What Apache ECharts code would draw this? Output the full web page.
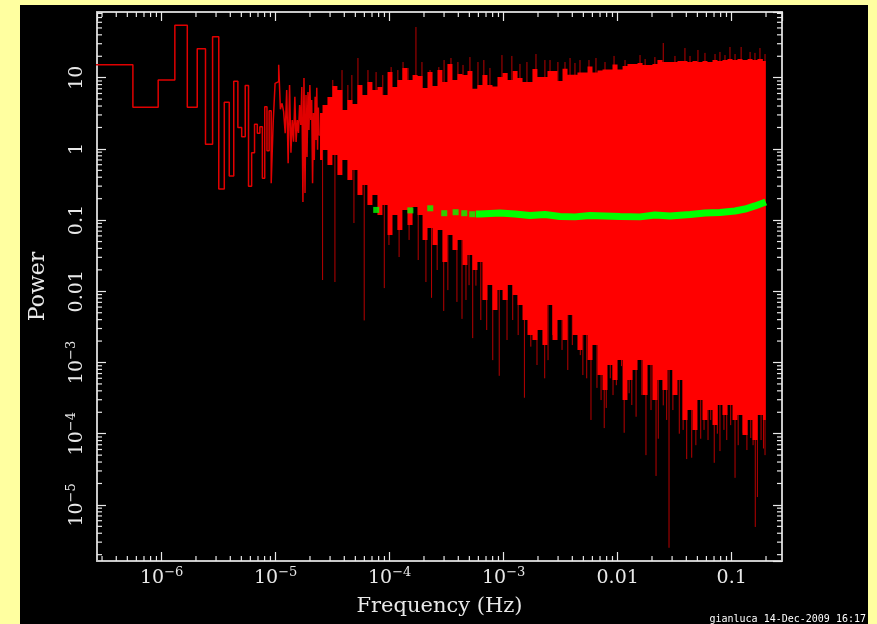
<!DOCTYPE html>
<html>
<head>
<meta charset="utf-8">
<script src="https://cdn.jsdelivr.net/npm/echarts@6/dist/echarts.min.js"></script>
<style>
  html, body { margin: 0; padding: 0; width: 877px; height: 624px; overflow: hidden; background: #ffffa0; }
  #chart { position: absolute; left: 20px; top: 5px; width: 848px; height: 619px; background: #000; }
</style>
</head>
<body>
<div id="chart"></div>
<script>
// power spectrum

// first bins: one step per frequency bin
const binWidth = 3.73e-7
const lowPower = [
  15.2, 3.84, 9.29, 54.4, 3.84, 25.5, 1.16, 37.7, 0.273, 4.51,
  0.416, 8.9, 1.99, 1.48, 7.8, 0.30, 0.885, 2.22, 1.66, 2.05,
  0.386, 3.92, 0.94, 3.44, 0.33, 2.33, 8.34, 8.79, 15.2, 3.6,
  4.37, 3.33, 1.66, 6.72, 0.63, 7.9, 0.885, 2.55, 1.26, 5.4,
  1.25, 2.55, 1.68, 4.14, 2.17, 7.4, 0.18, 9.9, 0.24, 5.71,
  0.77, 6.3, 1.84, 7.9, 2.55, 4.86, 0.33, 3.2, 0.70, 5.4,
  1.33, 7.2, 0.97, 3.8, 1.57
]

// dense part: upper / lower edge of the filled red band
const bandFreq = [
  2.45e-5, 2.71e-5, 2.99e-5, 3.31e-5, 3.66e-5, 4.05e-5, 4.48e-5, 4.96e-5, 5.49e-5, 6.07e-5,
  6.71e-5, 7.43e-5, 8.22e-5, 9.09e-5, 1.01e-4, 1.11e-4, 1.23e-4, 1.36e-4, 1.51e-4, 1.67e-4,
  1.85e-4, 2.04e-4, 2.26e-4, 2.50e-4, 2.76e-4, 3.05e-4, 3.38e-4, 3.74e-4, 4.14e-4, 4.58e-4,
  5.06e-4, 5.60e-4, 6.19e-4, 6.85e-4, 7.58e-4, 8.39e-4, 9.28e-4, 1.03e-3, 1.14e-3, 1.26e-3,
  1.39e-3, 1.54e-3, 1.70e-3, 1.88e-3, 2.08e-3, 2.30e-3, 2.55e-3, 2.82e-3, 3.12e-3, 3.45e-3,
  3.82e-3, 4.22e-3, 4.67e-3, 5.17e-3, 5.72e-3, 6.32e-3, 7.00e-3, 7.74e-3, 8.56e-3, 9.47e-3,
  0.0105, 0.0116, 0.0128, 0.0142, 0.0157, 0.0174, 0.0192, 0.0212, 0.0235, 0.0260,
  0.0288, 0.0318, 0.0352, 0.0389, 0.0431, 0.0476, 0.0527, 0.0583, 0.0645, 0.0714,
  0.0789, 0.0873, 0.0966, 0.107, 0.118, 0.131, 0.145, 0.160, 0.177, 0.199
]
const bandHigh = [
  3.2, 4.14, 5.35, 7.65, 6.72, 3.52, 4.86, 4.28, 7.9, 5.71,
  8.71, 6.72, 7.4, 5.71, 12.0, 7.4, 9.29, 13.7, 9.29, 10.9,
  10.55, 7.17, 12.0, 7.65, 12.8, 8.71, 15.6, 9.29, 11.26, 10.9,
  12.4, 7.0, 7.9, 10.9, 7.9, 7.5, 10.2, 11.6, 9.3, 12.4,
  9.9, 8.7, 8.7, 13.3, 10.2, 10.2, 12.4, 12.4, 9.0, 13.4,
  11.0, 11.0, 11.8, 11.8, 14.4, 11.8, 12.6, 13.0, 13.0, 15.3,
  13.0, 14.6, 15.6, 15.6, 16.1, 15.1, 15.1, 15.6, 17.7, 16.6,
  16.6, 16.6, 17.1, 17.1, 16.6, 17.1, 16.6, 17.1, 16.6, 17.7,
  17.1, 17.7, 18.3, 17.7, 18.3, 17.7, 18.3, 17.7, 18.3, 17.1
]
const bandLow = [
  0.698, 0.966, 0.594, 0.821, 0.430, 0.698, 0.366, 0.505, 0.225, 0.311,
  0.163, 0.225, 0.118, 0.163, 0.0618, 0.118, 0.0726, 0.139, 0.0853, 0.153,
  0.118, 0.0526, 0.0774, 0.0447, 0.0726, 0.0258, 0.0618, 0.0380, 0.0526, 0.0234,
  0.0324, 0.0199, 0.0258, 0.00755, 0.0123, 0.00546, 0.0104, 0.00755, 0.0123, 0.00887,
  0.00642, 0.00395, 0.00243, 0.00207, 0.00286, 0.00176, 0.00642, 0.00207, 0.00395, 0.00207,
  0.00465, 0.00243, 0.00150, 0.00243, 0.00108, 0.00176, 0.000667, 0.000411, 0.000922, 0.000568,
  0.00108, 0.000297, 0.000568, 0.000785, 0.00108, 0.000349, 0.000922, 0.000297, 0.000568, 0.000411,
  0.000785, 0.000349, 0.000568, 0.000156, 0.000215, 0.000113, 0.000297, 0.000156, 0.000215, 0.000132,
  0.000253, 0.000183, 0.000253, 0.000156, 0.000183, 9.6e-5, 0.000156, 8.15e-5, 0.000183, 0.000156
]

// single bins that stick out of the band (drawn from spikeAnchor to the tip)
const spikeAnchor = 1
const spikeFreq = [
  2.58e-5, 3.31e-5, 4.86e-5, 5.98e-5, 8.97e-5, 9.86e-5, 1.21e-4, 1.48e-4, 2.08e-4, 2.33e-4,
  2.98e-4, 3.89e-4, 4.31e-4, 4.97e-4, 5.35e-4, 5.71e-4, 8.02e-4, 9.14e-4, 1.52e-3, 1.73e-3,
  2.29e-3, 2.69e-3, 4.70e-3, 5.35e-3, 5.83e-3, 6.58e-3, 7.62e-3, 7.94e-3, 8.61e-3, 9.73e-3,
  0.0108, 0.0114, 0.0126, 0.0145, 0.0177, 0.0217, 0.0227, 0.0251, 0.0282, 0.0347,
  0.0403, 0.0446, 0.0535, 0.0655, 0.0703, 0.0748, 0.0789, 0.0855, 0.107, 0.126,
  0.147, 0.161, 0.168, 0.190,
  1.78e-4, 2.61e-4, 3.24e-4, 4.67e-4, 6.3e-4, 7.1e-4, 1.07e-3, 1.2e-3, 1.34e-3, 1.96e-3,
  2.45e-3, 3.25e-3, 3.65e-3, 4.0e-3, 4.95e-3, 7.15e-3, 9.1e-3, 0.0133, 0.0163, 0.0196,
  0.0269, 0.0305, 0.0375, 0.0485, 0.0572, 0.062, 0.0905, 0.098, 0.114, 0.136,
  0.154, 0.181, 0.196,
  3.82e-5, 5.27e-5, 1.03e-4, 1.31e-4, 1.70e-4, 2.26e-4, 2.70e-4, 3.45e-4, 5.06e-4, 7.58e-4,
  9.66e-4, 1.18e-3, 1.39e-3, 1.92e-3, 2.55e-3, 3.45e-3, 4.22e-3, 5.60e-3, 7.74e-3, 9.29e-3,
  0.0116, 0.0157, 0.0174, 0.0212, 0.0251, 0.0318, 0.0389, 0.0431, 0.0506, 0.0583,
  0.0714, 0.0789, 0.0873, 0.0966, 0.107, 0.121, 0.145, 0.160, 0.177, 0.196,
  3.17e-5, 4.3e-5, 4.66e-5, 6.45e-5, 7.6e-5, 8.7e-5, 1.18e-4, 1.45e-4, 1.92e-4, 3.0e-4,
  3.97e-4, 4.4e-4, 5.95e-4, 6.7e-4, 1.6e-3, 2.3e-3, 2.99e-3, 3.82e-3, 4.67e-3, 6.45e-3
]
const spikeTip = [
  0.0144, 0.0135, 0.091, 0.0039, 0.0111, 0.0447, 0.0303, 0.0526, 0.0135, 0.0081,
  0.0053, 0.0071, 0.0041, 0.0122, 0.0022, 0.012, 0.00108, 0.00065, 0.00032, 0.00167,
  0.0006, 0.00243, 0.00127, 0.0006, 0.000156, 0.00044, 0.00012, 0.00023, 0.0006, 0.00048,
  0.00089, 0.000103, 0.00037, 0.000173, 5.0e-5, 2.55e-5, 8.5e-5, 0.00025, 2.5e-6, 1.0e-4,
  4.4e-5, 4.6e-5, 8.5e-5, 0.000156, 3.9e-5, 1.0e-4, 5.7e-5, 0.000113, 2.4e-5, 1.03e-4,
  8.7e-5, 4.9e-6, 1.29e-5, 6.2e-5,
  0.0275, 0.0199, 0.0104, 0.00755, 0.00395, 0.00286, 0.00207, 0.00395, 0.00243, 0.000922,
  0.00108, 0.00150, 0.000785, 0.00176, 0.000667, 0.000297, 0.000349, 0.000253, 0.000349, 0.000215,
  0.000156, 0.000215, 0.000113, 6.9e-5, 0.000113, 8.15e-5, 8.15e-5, 0.000132, 6.9e-5, 5.9e-5,
  6.9e-5, 8.15e-5, 5.0e-5,
  12.8, 18.9, 14.1, 16.6, 51.5, 12.8, 14.1, 18.9, 19.5, 13.7,
  20.8, 20.2, 15.6, 21.5, 17.7, 16.6, 16.1, 17.7, 16.6, 20.2,
  17.7, 20.8, 18.3, 19.5, 30.7, 20.2, 26.1, 20.2, 24.5, 22.3,
  21.5, 23.0, 20.8, 27.0, 21.5, 27.0, 23.0, 22.3, 26.1, 21.5,
  9.29, 7.9, 10.9, 12.8, 12.0, 10.9, 12.8, 13.7, 16.6, 17.7,
  16.6, 15.1, 16.6, 17.7, 16.6, 17.7, 16.6, 18.9, 17.7, 18.9
]

// green: averaged spectrum
const greenDotFreq = [7.62e-5, 1.52e-4, 2.27e-4, 3.01e-4, 3.79e-4, 4.51e-4, 5.30e-4]
const greenDotPower = [0.139, 0.137, 0.1465, 0.125, 0.129, 0.125, 0.121]
const greenFreq = [
  5.7e-4, 6.2e-4, 9.3e-4, 1.26e-3, 1.7e-3, 2.3e-3, 3.12e-3, 4.22e-3, 5.72e-3, 7.74e-3,
  0.0105, 0.0157, 0.0212, 0.0288, 0.0431, 0.0583, 0.0789, 0.107, 0.131, 0.16, 0.199
]
const greenPower = [
  0.122, 0.122, 0.126, 0.122, 0.116, 0.120, 0.1125, 0.111, 0.116, 0.114,
  0.112, 0.111, 0.118, 0.114, 0.120, 0.126, 0.128, 0.134, 0.143, 0.158, 0.18
]

// axes
const xTickValues = [1e-6, 1e-5, 1e-4, 1e-3, 0.01, 0.1]
const xTickLabels = ['{b|10}{s|−6}', '{b|10}{s|−5}', '{b|10}{s|−4}', '{b|10}{s|−3}', '{b|0.01}', '{b|0.1}']
const yTickValues = [1e-5, 1e-4, 1e-3, 0.01, 0.1, 1, 10]
const yTickLabels = ['{b|10}{s|−5}', '{b|10}{s|−4}', '{b|10}{s|−3}', '{b|0.01}', '{b|0.1}', '{b|1}', '{b|10}']
const xRange = [2.71e-7, 0.2762]
const yRange = [1.63e-6, 83.7]
const decades = [-7, -6, -5, -4, -3, -2, -1, 0, 1]

const fg = '#e8e8e8'
const frame = '#c8c8c8'
const serif = 'DejaVu Serif'

function inRange(v, r) { return v > r[0] * 1.0001 && v < r[1] * 0.9999 }
function minorTicks(r) {
  const out = []
  decades.forEach(e => {
    for (let k = 2; k <= 9; k++) {
      const v = k * Math.pow(10, e)
      if (inRange(v, r)) out.push(v)
    }
  })
  return out
}
function labelFor(values, labels) {
  return v => {
    const i = values.findIndex(t => Math.abs(Math.log10(t) - Math.log10(v)) < 1e-6)
    return i < 0 ? '' : labels[i]
  }
}

const rich = {
  b: { fontFamily: serif, fontSize: 19, lineHeight: 24, color: fg },
  s: { fontFamily: serif, fontSize: 13, lineHeight: 12, verticalAlign: 'top', color: fg }
}

const stepData = []
lowPower.forEach((p, i) => {
  const f = (i + 1) * binWidth
  stepData.push([f - binWidth / 2, p], [f + binWidth / 2, p])
})

function bandItem(params, api) {
  const n = bandFreq.length
  const edges = [bandFreq[0]]
  for (let i = 1; i < n; i++) edges.push(Math.sqrt(bandFreq[i - 1] * bandFreq[i]))
  edges.push(bandFreq[n - 1])
  const top = [], bottom = []
  for (let i = 0; i < n; i++) {
    top.push(api.coord([edges[i], bandHigh[i]]), api.coord([edges[i + 1], bandHigh[i]]))
    bottom.push(api.coord([edges[i], bandLow[i]]), api.coord([edges[i + 1], bandLow[i]]))
  }
  return { type: 'polygon', shape: { points: top.concat(bottom.reverse()) }, style: { fill: '#ff0000' } }
}

function spikeItem(params, api) {
  const a = api.coord([api.value(0), spikeAnchor])
  const b = api.coord([api.value(0), api.value(1)])
  return { type: 'line', shape: { x1: a[0], y1: a[1], x2: b[0], y2: b[1] }, style: { stroke: '#b80000', lineWidth: 1 } }
}

function xMinorItem(params, api) {
  const cs = params.coordSys
  const x = api.coord([api.value(0), 1])[0]
  const st = { stroke: fg, lineWidth: 1.2 }
  return { type: 'group', children: [
    { type: 'line', shape: { x1: x, y1: cs.y + cs.height, x2: x, y2: cs.y + cs.height - 5 }, style: st },
    { type: 'line', shape: { x1: x, y1: cs.y, x2: x, y2: cs.y + 5 }, style: st }
  ] }
}
function yMinorItem(params, api) {
  const cs = params.coordSys
  const y = api.coord([1e-3, api.value(1)])[1]
  const st = { stroke: fg, lineWidth: 1.2 }
  return { type: 'group', children: [
    { type: 'line', shape: { x1: cs.x, y1: y, x2: cs.x + 5, y2: y }, style: st },
    { type: 'line', shape: { x1: cs.x + cs.width, y1: y, x2: cs.x + cs.width - 5, y2: y }, style: st }
  ] }
}

const axisLine = { onZero: false, lineStyle: { color: frame, width: 2 } }
const axisTick = { inside: true, length: 9, lineStyle: { color: fg, width: 1.2 } }

const myChart = echarts.init(document.getElementById('chart'))
myChart.setOption({
  animation: false,
  backgroundColor: '#000',
  grid: { left: 77, top: 7, right: 86, bottom: 63, outerBoundsMode: 'none' },
  graphic: [{
    type: 'text', right: 2, bottom: 0,
    style: { text: 'gianluca 14-Dec-2009 16:17', fill: '#ffffff', font: '10px "DejaVu Sans Mono"' }
  }],
  xAxis: [
    {
      type: 'log', min: xRange[0], max: xRange[1], position: 'bottom',
      axisLine, axisTick, splitLine: { show: false },
      axisLabel: { margin: 5, formatter: labelFor(xTickValues, xTickLabels), rich, showMinLabel: false, showMaxLabel: false },
      name: 'Frequency (Hz)', nameLocation: 'middle', nameGap: 35,
      nameTextStyle: { color: fg, fontFamily: serif, fontSize: 21 }
    },
    {
      type: 'log', min: xRange[0], max: xRange[1], position: 'top',
      axisLine, axisTick, splitLine: { show: false }, axisLabel: { show: false }
    }
  ],
  yAxis: [
    {
      type: 'log', min: yRange[0], max: yRange[1], position: 'left',
      axisLine, axisTick, splitLine: { show: false },
      axisLabel: { margin: 8, rotate: 90, formatter: labelFor(yTickValues, yTickLabels), rich, showMinLabel: false, showMaxLabel: false },
      name: 'Power', nameLocation: 'middle', nameGap: 48,
      nameTextStyle: { color: fg, fontFamily: serif, fontSize: 22 }
    },
    {
      type: 'log', min: yRange[0], max: yRange[1], position: 'right',
      axisLine, axisTick, splitLine: { show: false }, axisLabel: { show: false }
    }
  ],
  series: [
    {
      type: 'custom', z: 1, renderItem: spikeItem,
      encode: { x: 0, y: 1 },
      data: spikeFreq.map((f, i) => [f, spikeTip[i]])
    },
    {
      type: 'custom', z: 2, renderItem: bandItem,
      encode: { x: 0, y: 1 },
      data: [[bandFreq[0], bandHigh[0]]]
    },
    {
      type: 'line', z: 3, data: stepData, showSymbol: false,
      lineStyle: { color: '#e00000', width: 1.5 }
    },
    {
      type: 'line', z: 4, data: greenFreq.map((f, i) => [f, greenPower[i]]), showSymbol: false,
      lineStyle: { color: '#00ff00', width: 7, cap: 'butt' }
    },
    {
      type: 'scatter', z: 4, symbol: 'rect', symbolSize: 6,
      itemStyle: { color: '#00ff00' },
      data: greenDotFreq.map((f, i) => [f, greenDotPower[i]])
    },
    {
      type: 'custom', z: 5, renderItem: xMinorItem, encode: { x: 0, y: 1 },
      data: minorTicks(xRange).map(v => [v, 1e-3])
    },
    {
      type: 'custom', z: 5, renderItem: yMinorItem, encode: { x: 0, y: 1 },
      data: minorTicks(yRange).map(v => [1e-3, v])
    }
  ]
})
</script>
</body>
</html>
